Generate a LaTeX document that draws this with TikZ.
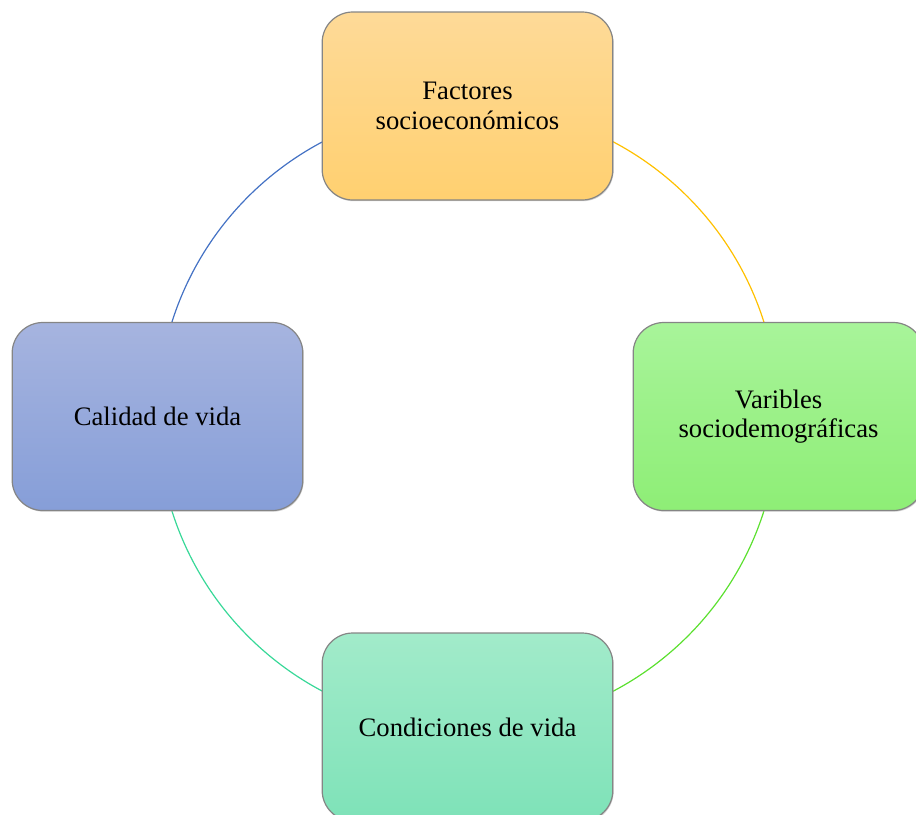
\documentclass[tikz,border=0pt]{standalone}
\usepackage{fontspec}
\setmainfont{Liberation Serif}
\usetikzlibrary{backgrounds,shadows}
\definecolor{arcBlue}{HTML}{4472C4}
\definecolor{arcGold}{HTML}{FFC000}
\definecolor{arcGreen}{HTML}{5CE030}
\definecolor{arcTeal}{HTML}{38D898}
\tikzset{
  card/.style={rounded corners=23pt, minimum width=218pt, minimum height=141pt,
    draw=black!48, line width=0.9pt, align=center, inner sep=2pt,
    font=\fontsize{20}{22}\selectfont,
    drop shadow={shadow xshift=0.6pt, shadow yshift=-0.9pt, fill=black!35, opacity=0.5}},
  link/.style={line width=0.9pt},
}
\begin{document}
\begin{tikzpicture}[x=0.75pt,y=-0.75pt]
\useasboundingbox (0,0) rectangle (916,814);
\clip (0,0) rectangle (916,814);
\node[card, top color={rgb,255:red,254;green,218;blue,152}, bottom color={rgb,255:red,255;green,208;blue,112}] (fac) at (467.5,106) {Factores\\socioeconómicos};
\node[card, top color={rgb,255:red,168;green,244;blue,154}, bottom color={rgb,255:red,142;green,238;blue,118}] (var) at (778.5,416.5) {Varibles\\sociodemográficas};
\node[card, top color={rgb,255:red,162;green,235;blue,202}, bottom color={rgb,255:red,126;green,226;blue,184}] (con) at (467.5,727) {Condiciones de vida};
\node[card, top color={rgb,255:red,166;green,180;blue,223}, bottom color={rgb,255:red,134;green,158;blue,216}] (cal) at (157.5,416.5) {Calidad de vida};
\begin{scope}[on background layer]
\draw[link, arcBlue] (fac.center) to[bend right=45] (cal.center);
\draw[link, arcGold] (fac.center) to[bend left=45] (var.center);
\draw[link, arcGreen] (var.center) to[bend left=45] (con.center);
\draw[link, arcTeal] (con.center) to[bend left=45] (cal.center);
\end{scope}
\end{tikzpicture}
\end{document}
